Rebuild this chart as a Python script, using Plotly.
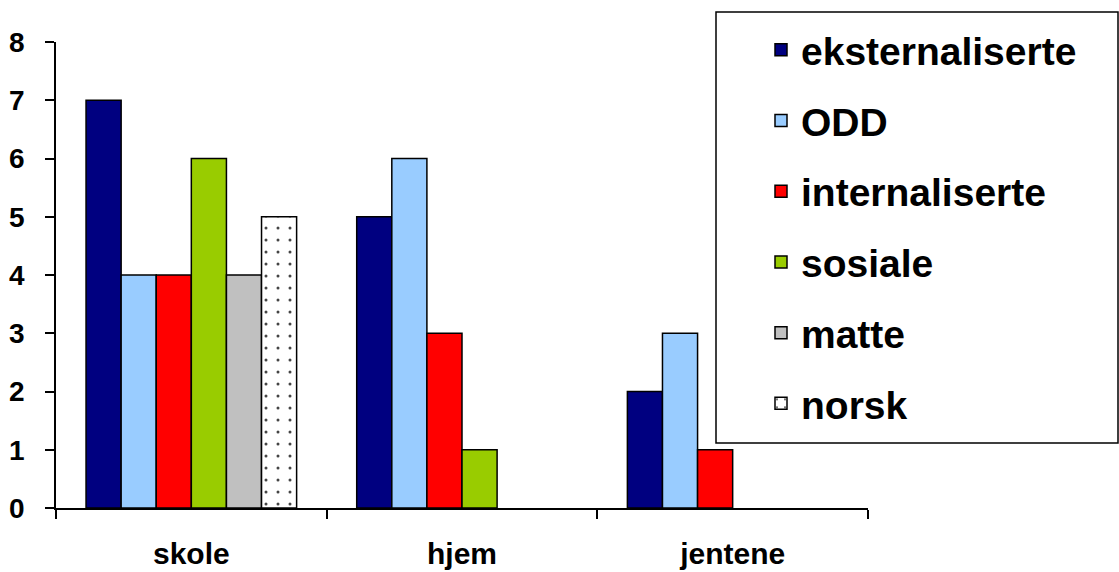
import plotly.graph_objects as go

categories = ["skole", "hjem", "jentene"]
series_names = ["eksternaliserte", "ODD", "internaliserte", "sosiale", "matte", "norsk"]
eksternaliserte = [7, 5, 2]
odd = [4, 6, 3]
internaliserte = [4, 3, 1]
sosiale = [6, 1, None]
matte = [4, None, None]
norsk = [5, None, None]
y_ticks = [0, 1, 2, 3, 4, 5, 6, 7, 8]

values = [eksternaliserte, odd, internaliserte, sosiale, matte, norsk]
colors = ["#000080", "#99CCFF", "#FF0000", "#99CC00", "#C0C0C0", "#FFFFFF"]

FONT = "Liberation Sans, Arial, sans-serif"

fig = go.Figure()
for i, (name, vals, col) in enumerate(zip(series_names, values, colors)):
    marker = dict(color=col, line=dict(color="black", width=1.5))
    if name == "norsk":
        marker["pattern"] = dict(shape=".", fgcolor="#444444", bgcolor="#FFFFFF",
                                 size=12, solidity=0.05, fillmode="replace")
    fig.add_trace(go.Bar(x=categories, y=vals, name=name, marker=marker,
                         legendgroup=f"g{i}"))

fig.update_layout(
    width=1119, height=572,
    margin=dict(l=56, r=251, t=42, b=64, autoexpand=False),
    paper_bgcolor="white", plot_bgcolor="white",
    barmode="group", bargap=0.222, bargroupgap=0,
    font=dict(family=FONT, color="black"),
    showlegend=True,
    legend=dict(
        xref="container", yref="container",
        x=761 / 1119, xanchor="left",
        y=1 - 18 / 572, yanchor="top",
        font=dict(family=FONT, size=39, color="black", weight="bold"),
        bgcolor="rgba(0,0,0,0)", borderwidth=0,
        tracegroupgap=17, maxheight=560,
    ),
    shapes=[dict(type="rect", xref="paper", yref="paper",
                 x0=(716 - 56) / 812, x1=(1118 - 56) / 812,
                 y0=(508 - 443) / 466, y1=(508 - 12) / 466,
                 line=dict(color="black", width=1.5), fillcolor="white",
                 layer="above")],
)

fig.update_xaxes(
    type="category", tickson="boundaries", ticks="outside", ticklen=9,
    tickcolor="black", tickwidth=1.5,
    showline=True, linecolor="black", linewidth=1.5, showgrid=False,
    tickfont=dict(family=FONT, size=30, color="black", weight="bold"),
    ticklabelstandoff=18,
)
fig.update_yaxes(
    range=[0, 8], tickvals=y_ticks, ticks="outside", ticklen=9,
    tickcolor="black", tickwidth=1.5,
    showline=True, linecolor="black", linewidth=1.5, showgrid=False,
    zeroline=False,
    tickfont=dict(family=FONT, size=28, color="black", weight="bold"),
    ticklabelstandoff=15,
)

fig.write_html("out.html", config={"displayModeBar": False})

# remove default page margin so the figure sits at the window's top-left corner
with open("out.html", "r", encoding="utf-8") as f:
    html = f.read()
html = html.replace("<head>", "<head><style>html,body{margin:0;padding:0;overflow:hidden}</style>", 1)
with open("out.html", "w", encoding="utf-8") as f:
    f.write(html)
